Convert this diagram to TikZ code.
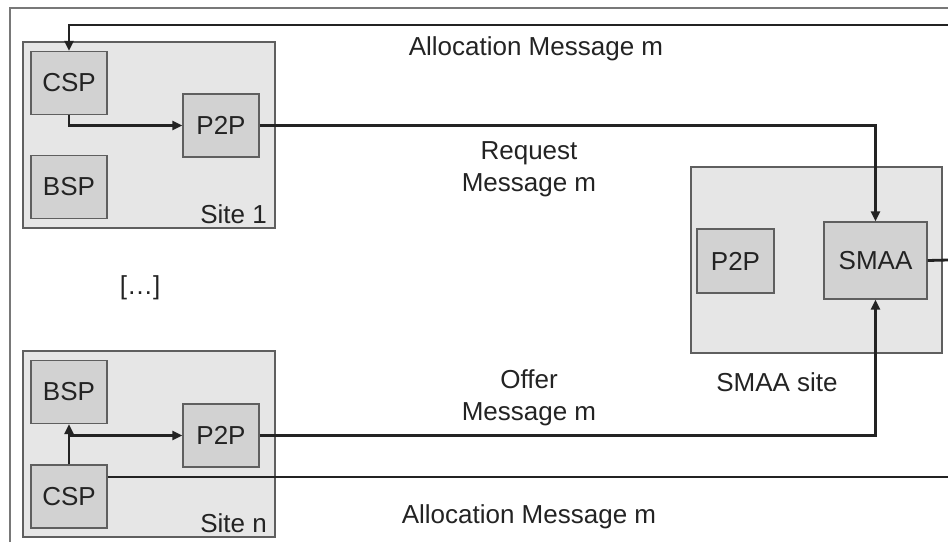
\documentclass[tikz,border=0pt]{standalone}
\usepackage{fontspec}
\setmainfont{Liberation Sans}
\usepackage{xcolor}
\usetikzlibrary{arrows.meta,positioning}
\definecolor{sitefill}{RGB}{230,230,230}
\definecolor{boxfill}{RGB}{210,210,210}
\definecolor{boxline}{RGB}{95,95,95}
\definecolor{frameline}{RGB}{120,120,120}
\definecolor{inkline}{RGB}{35,35,35}
\begin{document}
\begin{tikzpicture}[line cap=butt,line join=miter,x=1pt,y=-1pt,
    >={Triangle[length=10pt,width=9pt]},
    font=\fontsize{26}{32}\selectfont,text=inkline,
    site/.style={draw=boxline,fill=sitefill,line width=1.3pt,minimum width=252pt,minimum height=186pt,inner sep=0pt},
    unit/.style={draw=boxline,fill=boxfill,line width=1.3pt,minimum width=76pt,minimum height=63pt,inner sep=0pt},
    conn/.style={draw=inkline,line width=2.8pt},
    lbl/.style={inner sep=0pt,align=center}]
                \useasboundingbox (0,0) rectangle (948,542);
                \draw [frameline,line width=1.2pt] (10,542)-- (10,8)-- (948,8);
                \node[site] (site1) at (149,135) {};
                \node[site] (siten) at (149,444) {};
                \node[site,minimum width=251pt] (smaasite) at (816.5,260) {};
                \node[unit] (csp1) at (69,83) {CSP};
                \node[unit] (ptp1) at (221,125.5) {P2P};
                \node[unit] (bsp1) at (69,187) {BSP};
                \node[unit] (bspn) at (69,392) {BSP};
                \node[unit] (ptpn) at (221,435.5) {P2P};
                \node[unit] (cspn) at (69,496.5) {CSP};
                \node[unit,minimum width=77pt,minimum height=64pt] (ptps) at (735.5,261) {P2P};
                \node[unit,minimum width=103pt,minimum height=77pt] (smaa) at (875.5,260.5) {SMAA};
                \node[lbl,anchor=base east] (site1lbl) at (267,223) {Site 1};
                \node[lbl,anchor=base east] (sitenlbl) at (267,532) {Site n};
                \node[lbl,anchor=base] (smaalbl) at (777,391) {SMAA site};
                \node[lbl] (dots) at (140,288) {[…]};
                \node[lbl,anchor=base] (alloctop) at (536,55) {Allocation Message m};
                \node[lbl,anchor=base] (allocbot) at (529,523) {Allocation Message m};
                \node[lbl,anchor=north] (reqlbl) at (529,141) {Request\\Message m};
                \node[lbl,anchor=north] (offlbl) at (529,369) {Offer\\Message m};
                \coordinate (allocin) at (948,25);
                \coordinate (smaaout) at (948,260);
                \coordinate (allocout) at (948,477);
                \draw [conn,->] (allocin) -| (csp1.north);
                \draw [conn,->] (csp1.south) |- (ptp1.west);
                \draw [conn,->] (ptp1.east) -| (smaa.north);
                \draw [conn] (smaa.east) -- (smaaout);
                \draw [conn,->] (cspn.north) -- (bspn.south);
                \draw [conn,->] (cspn.north) |- (ptpn.west);
                \draw [conn,->] (ptpn.east) -| (smaa.south);
                \draw [conn] (allocout -| cspn.east) -- (allocout);
\end{tikzpicture}
\end{document}
